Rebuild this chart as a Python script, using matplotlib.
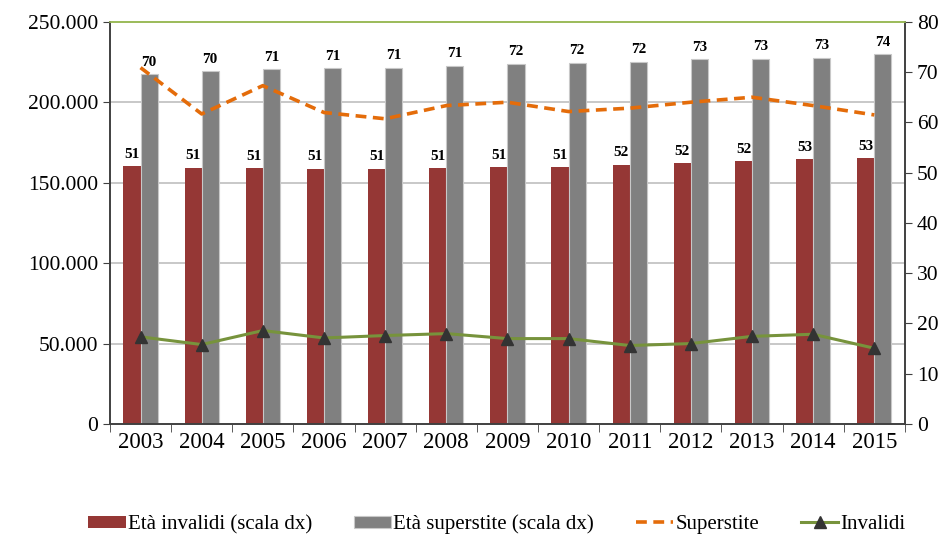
import numpy as np
import matplotlib.pyplot as plt
from matplotlib.ticker import FuncFormatter

plt.rcParams['font.family'] = ['Liberation Serif', 'DejaVu Serif']

# Data
anni = ['2003', '2004', '2005', '2006', '2007', '2008', '2009',
        '2010', '2011', '2012', '2013', '2014', '2015']
eta_invalidi = [51.3, 51.0, 50.9, 50.8, 50.8, 50.9, 51.1, 51.1, 51.6, 51.9, 52.3, 52.7, 52.9]
eta_superstite = [69.6, 70.2, 70.6, 70.8, 70.9, 71.3, 71.7, 71.9, 72.1, 72.6, 72.7, 72.9, 73.6]
superstite = [221600, 192800, 210400, 193700, 189800, 198000, 200100,
              194300, 196400, 200100, 203200, 198000, 192200]
invalidi = [54200, 49400, 58100, 53500, 55000, 56200, 53100,
            53100, 48800, 50000, 54500, 55800, 47100]

red = '#953735'
gray = '#808080'
orange = '#E46C0A'
green = '#77933C'

fig = plt.figure(figsize=(9.52, 5.36), dpi=100)
ax = fig.add_axes([0.1155, 0.209, 0.835, 0.75])
ax2 = ax.twinx()

x = np.arange(len(anni))
w = 0.28

# bars on the right scale (drawn on the lower axes so lines sit on top)
b1 = ax.bar(x - w / 2, eta_invalidi, w, color=red, label='Età invalidi (scala dx)', zorder=2)
b2 = ax.bar(x + w / 2, eta_superstite, w, color=gray, edgecolor='#c8c8c8', linewidth=0.8,
            label='Età superstite (scala dx)', zorder=2)
for bars, vals in ((b1, eta_invalidi), (b2, eta_superstite)):
    for r, v in zip(bars, vals):
        ax.annotate(f'{round(v):d}', (r.get_x() + r.get_width() / 2, r.get_height()),
                    xytext=(0, 4), textcoords='offset points', ha='center', va='bottom',
                    fontsize=11, fontweight='bold')

ax.set_ylim(0, 80)
ax.set_yticks(np.arange(0, 81, 10))
ax.yaxis.tick_right()
ax.set_yticks(np.arange(16, 81, 16), minor=True)
ax.yaxis.grid(True, which='minor', color='#bfbfbf', linewidth=1.2, zorder=0)
ax.tick_params(axis='y', which='minor', length=0)
ax.set_axisbelow(True)

# lines on the left scale
l1, = ax2.plot(x, superstite, color=orange, linestyle=(0, (3, 1.8)), linewidth=2.6,
               label='Superstite', zorder=3)
l2, = ax2.plot(x, invalidi, color=green, linewidth=2.2, marker='^', markersize=8,
               markerfacecolor='#333333', markeredgecolor='#333333', label='Invalidi', zorder=3)
ax2.set_ylim(0, 250000)
ax2.set_yticks(np.arange(0, 250001, 50000))
ax2.yaxis.tick_left()
ax2.yaxis.set_major_formatter(FuncFormatter(lambda v, p: f'{int(v):,}'.replace(',', '.')))

ax.set_xlim(-0.5, len(anni) - 0.5)
ax.set_xticks(x)
ax.set_xticklabels(anni)
ax.set_xticks(np.arange(-0.5, len(anni), 1), minor=True)
ax.tick_params(axis='x', which='major', length=0, labelsize=16.5, pad=6)
ax.tick_params(axis='x', which='minor', length=6, color='#404040', direction='out')

for a in (ax, ax2):
    a.tick_params(axis='y', which='major', labelsize=15.5, length=5, color='#404040')
    for s in ('left', 'right', 'bottom'):
        a.spines[s].set_color('#404040')
        a.spines[s].set_linewidth(1.2)
    a.spines['top'].set_color('#9bbb59')
    a.spines['top'].set_linewidth(1.2)

fig.legend([b1, b2, l1, l2],
           ['Età invalidi (scala dx)', 'Età superstite (scala dx)', 'Superstite', 'Invalidi'],
           loc='center', bbox_to_anchor=(0.522, 0.022), ncol=4, frameon=False,
           fontsize=15, handlelength=1.8, handleheight=0.5, handletextpad=0.1,
           columnspacing=2.0)

fig.savefig('out.png', dpi=100)
